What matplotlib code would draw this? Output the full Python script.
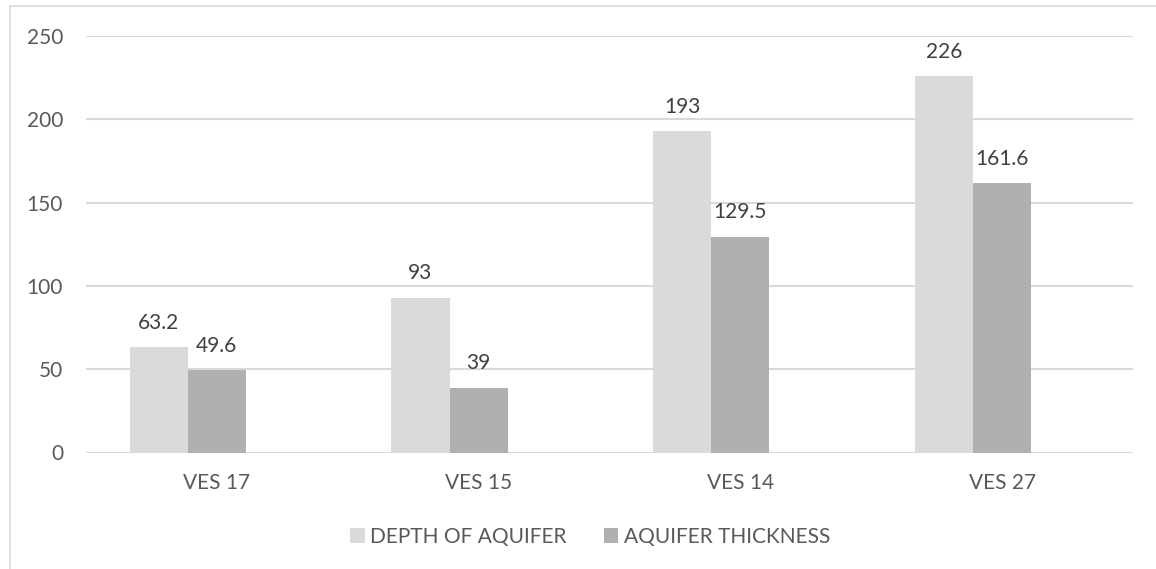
import matplotlib
matplotlib.use("Agg")
import matplotlib.pyplot as plt
from matplotlib.patches import Patch
from matplotlib.lines import Line2D
import numpy as np

categories = ["VES 17", "VES 15", "VES 14", "VES 27"]
depth_of_aquifer = [63.2, 93, 193, 226]
aquifer_thickness = [49.6, 39, 129.5, 161.6]
series_names = ["DEPTH OF AQUIFER", "AQUIFER THICKNESS"]
y_ticks = [0, 50, 100, 150, 200, 250]

LIGHT = "#DADADA"
DARK = "#B0B0B0"
GRID = "#D9D9D9"
TEXT = "#595959"
FONT = "Lato"
FS = 15

W, H = 1156, 569
fig = plt.figure(figsize=(W / 100, H / 100), dpi=100)
fig.patch.set_facecolor("white")

# chart-area frame (left and top edges)
fig.add_artist(Line2D([10 / W, 10 / W], [0, 1 - 6 / H], transform=fig.transFigure,
                      color=GRID, lw=1.2))
fig.add_artist(Line2D([10 / W, 1], [1 - 6 / H, 1 - 6 / H], transform=fig.transFigure,
                      color=GRID, lw=1.2))

left, right, top, bottom = 86, 1133, 36, 452.5
ax = fig.add_axes([left / W, 1 - bottom / H, (right - left) / W, (bottom - top) / H])

x = np.arange(len(categories))
bw = 2 / 9  # three slots per group with 150% gap
ax.bar(x - bw, depth_of_aquifer, width=bw, color=LIGHT, zorder=3)
ax.bar(x, aquifer_thickness, width=bw, color=DARK, zorder=3)

for xi, v in zip(x - bw, depth_of_aquifer):
    ax.annotate(f"{v:g}", (xi, v), xytext=(0, 17.5), textcoords="offset points",
                ha="center", va="center", fontsize=FS, color="#404040", family=FONT)
for xi, v in zip(x, aquifer_thickness):
    ax.annotate(f"{v:g}", (xi, v), xytext=(0, 17.5), textcoords="offset points",
                ha="center", va="center", fontsize=FS, color="#404040", family=FONT)

ax.set_xlim(-0.5, len(categories) - 0.5)
ax.set_ylim(0, 250)
ax.set_yticks(y_ticks)
ax.set_xticks(x)
ax.set_xticklabels(categories)
for sp in ax.spines.values():
    sp.set_visible(False)
ax.yaxis.grid(True, color=GRID, lw=1.5, zorder=0)
ax.set_axisbelow(True)
ax.tick_params(axis="both", length=0, labelsize=FS, labelcolor=TEXT)
ax.tick_params(axis="y", pad=16.5)
ax.tick_params(axis="x", pad=15)
for lab in ax.get_xticklabels() + ax.get_yticklabels():
    lab.set_family(FONT)

handles = [Patch(facecolor=LIGHT, edgecolor="none"), Patch(facecolor=DARK, edgecolor="none")]
leg = fig.legend(handles, series_names, loc="center", bbox_to_anchor=(590 / W, 1 - 537 / H),
                 ncol=2, frameon=False, handlelength=0.7, handleheight=0.7,
                 handletextpad=0.25, columnspacing=1.8,
                 prop={"family": FONT, "size": FS})
for t in leg.get_texts():
    t.set_color(TEXT)

fig.savefig("out.png", dpi=100, facecolor="white")
